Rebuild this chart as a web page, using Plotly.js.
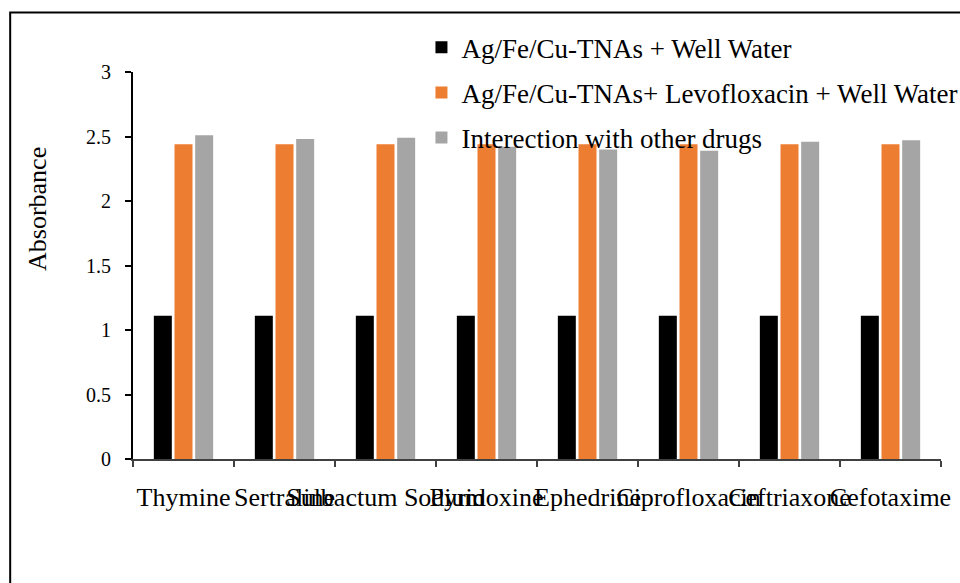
<!DOCTYPE html>
<html>
<head>
<meta charset="utf-8">
<script src="https://cdn.plot.ly/plotly-3.0.1.min.js"></script>
<style>
html,body{margin:0;padding:0;background:#fff;}
#chart{width:960px;height:583px;}
</style>
</head>
<body>
<div id="chart"></div>
<script>
const categories = ["Thymine", "Sertraline", "Sulbactum Sodium", "Pyridoxine", "Ephedrine", "Ciprofloxacin", "Ceftriaxone", "Cefotaxime"];
const wellWater = [1.11, 1.11, 1.11, 1.11, 1.11, 1.11, 1.11, 1.11];
const levofloxacin = [2.44, 2.44, 2.44, 2.44, 2.44, 2.44, 2.44, 2.44];
const otherDrugs = [2.51, 2.48, 2.49, 2.42, 2.40, 2.39, 2.46, 2.47];
const seriesNames = ["Ag/Fe/Cu-TNAs + Well Water", "Ag/Fe/Cu-TNAs+ Levofloxacin + Well Water", "Interection with other drugs"];
const yTicks = [0, 0.5, 1, 1.5, 2, 2.5, 3];

const FONT = "Liberation Serif, serif";
const colors = ["#000000", "#ED7D31", "#A5A5A5"];
const data = [wellWater, levofloxacin, otherDrugs].map((vals, i) => ({
  type: "bar",
  x: categories,
  y: vals,
  name: seriesNames[i],
  legendgroup: "g" + i,
  marker: {color: colors[i], line: {width: 0}},
  hoverinfo: "x+y"
}));

const layout = {
  width: 960, height: 583,
  margin: {l: 133, r: 19, t: 72, b: 124, autoexpand: false},
  paper_bgcolor: "#fff", plot_bgcolor: "#fff",
  font: {family: FONT, color: "#000"},
  barmode: "group",
  bargap: 0.386,
  bargroupgap: 0.13,
  showlegend: true,
  legend: {
    x: 0.357, y: 1.126, xanchor: "left", yanchor: "top",
    bgcolor: "rgba(0,0,0,0)",
    font: {family: FONT, size: 27, color: "#000"},
    tracegroupgap: 7,
    itemwidth: 30
  },
  xaxis: {
    type: "category",
    automargin: false,
    tickson: "boundaries",
    ticks: "outside", ticklen: 6, tickwidth: 2, tickcolor: "#404040",
    showline: true, linecolor: "#404040", linewidth: 2,
    showgrid: false, zeroline: false,
    tickangle: 0,
    tickfont: {family: FONT, size: 26, color: "#000"},
    ticklabelstandoff: 14
  },
  yaxis: {
    range: [0, 3],
    automargin: false,
    tickvals: yTicks,
    ticktext: yTicks.map(String),
    ticks: "outside", ticklen: 6, tickwidth: 2, tickcolor: "#000",
    showline: true, linecolor: "#000", linewidth: 2,
    showgrid: false, zeroline: false,
    tickfont: {family: FONT, size: 20, color: "#000"},
    ticklabelstandoff: 10
  },
  annotations: [{
    text: "Absorbance",
    xref: "paper", yref: "paper",
    x: -0.1176, y: 0.646,
    xanchor: "center", yanchor: "middle",
    textangle: -90,
    showarrow: false,
    font: {family: FONT, size: 26, color: "#000"}
  }],
  shapes: [{
    type: "rect", xref: "paper", yref: "paper",
    x0: -0.152, x1: 1.1, y0: -0.5, y1: 1.154,
    line: {color: "#000", width: 2},
    layer: "below"
  }]
};

Plotly.newPlot("chart", data, layout, {displayModeBar: false, staticPlot: true});
</script>
</body>
</html>
